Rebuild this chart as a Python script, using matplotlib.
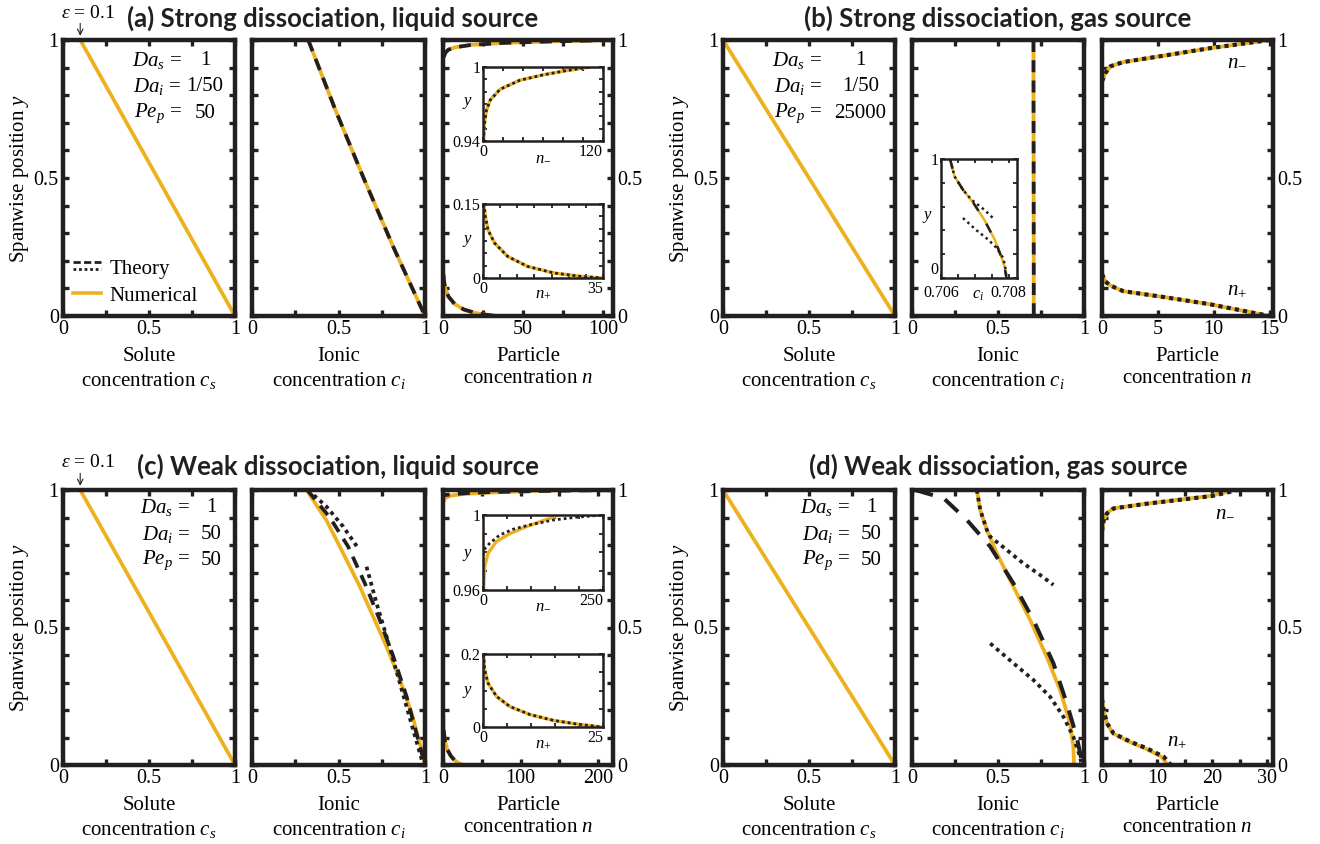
import matplotlib
matplotlib.use('Agg')
import matplotlib.pyplot as plt
from matplotlib.legend_handler import HandlerBase
from matplotlib.lines import Line2D

plt.rcParams['font.family'] = ['Liberation Serif', 'DejaVu Serif']
plt.rcParams['mathtext.fontset'] = 'custom'
plt.rcParams['mathtext.rm'] = 'Liberation Serif'
plt.rcParams['mathtext.it'] = 'Liberation Serif:italic'
plt.rcParams['mathtext.bf'] = 'Liberation Serif:bold'

ORANGE = '#EDB120'
DARK = '#231f20'

# ---------------- data ----------------
# (a) strong dissociation, liquid source
a_cs_y = [1.0, 0.0]
a_cs = [0.1, 1.0]
a_ci_y = [1.0, 0.75, 0.5, 0.25, 0.0]
a_ci = [0.325, 0.48, 0.645, 0.817, 1.0]
a_nm_y = [0.94, 0.9414, 0.953, 0.9646, 0.9733, 0.982, 0.9893, 0.9936, 0.9971, 0.9994, 1.0]
a_nm = [0.0, 0.7, 1.3, 3.3, 7.3, 17.2, 37.0, 60.0, 83.5, 103.0, 107.0]
a_np_y = [0.15, 0.148, 0.124, 0.0975, 0.0706, 0.0437, 0.0235, 0.0101, 0.0034, 0.0]
a_np = [0.0, 0.3, 0.7, 1.45, 3.4, 7.2, 13.0, 20.7, 28.4, 34.7]

# (b) strong dissociation, gas source
b_cs_y = [1.0, 0.0]
b_cs = [0.0, 1.0]
b_ci_y = [1.0, 0.986, 0.854, 0.742, 0.630, 0.490, 0.322, 0.182, 0.098, 0.014, 0.0]
b_ci = [0.70627, 0.70628, 0.70640, 0.70665, 0.70696, 0.70728, 0.70759, 0.70778, 0.70788, 0.70793, 0.70794]
b_ci_up_y = [1.0, 0.854, 0.742, 0.658, 0.574, 0.49]
b_ci_up = [0.70627, 0.70640, 0.70665, 0.70690, 0.70728, 0.70759]
b_ci_lo_y = [0.504, 0.406, 0.322, 0.252, 0.168, 0.098, 0.0]
b_ci_lo = [0.70665, 0.70703, 0.70740, 0.70765, 0.70784, 0.70790, 0.70794]
b_nm_y = [0.85, 0.88, 0.905, 0.92, 0.945, 0.97, 1.0]
b_nm = [0.0, 0.3, 0.77, 1.9, 5.8, 9.6, 15.0]
b_np_y = [0.152, 0.125, 0.11, 0.09, 0.067, 0.043, 0.0]
b_np = [0.0, 0.3, 0.77, 1.9, 5.8, 9.6, 15.0]

# (c) weak dissociation, liquid source
c_cs_y = [1.0, 0.0]
c_cs = [0.1, 1.0]
c_ci_y = [1.0, 0.89, 0.77, 0.648, 0.54, 0.43, 0.31, 0.188, 0.055, 0.0]
c_ci = [0.315, 0.43, 0.527, 0.624, 0.70, 0.778, 0.855, 0.923, 0.98, 1.0]
c_ci_th_y = [1.0, 0.90, 0.794, 0.661, 0.527, 0.394, 0.248, 0.067, 0.0]
c_ci_th = [0.32, 0.45, 0.556, 0.652, 0.739, 0.817, 0.894, 0.971, 1.0]
c_ci_up_y = [1.0, 0.94, 0.867, 0.788]
c_ci_up = [0.324, 0.43, 0.527, 0.614]
c_ci_lo_y = [0.721, 0.588, 0.467, 0.297, 0.127, 0.0]
c_ci_lo = [0.662, 0.72, 0.778, 0.855, 0.932, 0.99]
c_nm_y = [0.96, 0.961, 0.9724, 0.9796, 0.9858, 0.990, 0.9938, 0.997, 0.999, 1.0]
c_nm = [0.0, 1.4, 3.5, 10.4, 27.8, 55.6, 90.0, 125.0, 149.0, 155.0]
c_nm_th_y = [0.96, 0.978, 0.9813, 0.9849, 0.9893, 0.9924, 0.9947, 0.9973, 0.9988, 1.0]
c_nm_th = [0.0, 0.0, 1.4, 13.9, 34.7, 62.5, 97.0, 146.0, 194.0, 250.0]
c_np_y = [0.2, 0.197, 0.156, 0.12, 0.084, 0.056, 0.034, 0.018, 0.008, 0.0]
c_np = [0.0, 0.14, 0.35, 1.05, 2.8, 5.6, 9.8, 14.7, 19.6, 24.8]

# (d) weak dissociation, gas source
d_cs_y = [1.0, 0.0]
d_cs = [0.0, 1.0]
d_ci_y = [1.0, 0.927, 0.855, 0.77, 0.648, 0.527, 0.394, 0.273, 0.152, 0.067, 0.0]
d_ci = [0.377, 0.397, 0.435, 0.493, 0.59, 0.687, 0.783, 0.861, 0.919, 0.938, 0.942]
d_ci_th_y = [1.0, 0.97, 0.891, 0.794, 0.66, 0.527, 0.37, 0.224, 0.103, 0.018, 0.0]
d_ci_th = [0.02, 0.184, 0.319, 0.455, 0.59, 0.706, 0.822, 0.9, 0.957, 0.986, 1.0]
d_ci_up_y = [1.0, 0.927, 0.855, 0.83, 0.782, 0.733, 0.691, 0.655]
d_ci_up = [0.377, 0.397, 0.435, 0.455, 0.551, 0.648, 0.745, 0.822]
d_ci_lo_y = [0.442, 0.37, 0.309, 0.248, 0.176, 0.103, 0.03, 0.0]
d_ci_lo = [0.455, 0.59, 0.706, 0.803, 0.88, 0.938, 0.977, 0.986]
d_nm_y = [0.85, 0.89, 0.915, 0.933, 0.95, 0.964, 0.978, 0.998, 1.0]
d_nm = [0.0, 0.3, 0.87, 2.0, 7.9, 13.7, 19.5, 23.6, 23.8]
d_nm_th = [0.0, 0.3, 0.9, 2.1, 8.1, 14.0, 19.9, 24.2, 24.5]
d_np_y = [0.24, 0.2, 0.152, 0.115, 0.085, 0.06, 0.03, 0.0]
d_np = [0.0, 0.3, 0.87, 2.0, 4.9, 7.9, 10.8, 11.9]
d_np_th = [0.0, 0.3, 0.9, 2.1, 5.1, 8.2, 11.2, 12.5]

# tick positions / labels
c_ticks = [0, 0.25, 0.5, 0.75, 1]
c_labels = ['0', '', '0.5', '', '1']
y_ticks = [0, 0.1, 0.2, 0.3, 0.4, 0.5, 0.6, 0.7, 0.8, 0.9, 1.0]
y_labels = ['0', '', '', '', '', '0.5', '', '', '', '', '1']
a_n_ticks = [0, 25, 50, 75, 100]
a_n_labels = ['0', '', '50', '', '100']
b_n_ticks = [0, 5, 10, 15]
b_n_labels = ['0', '5', '10', '15']
c_n_ticks = [0, 50, 100, 150, 200]
c_n_labels = ['0', '', '100', '', '200']
d_n_ticks = [0, 5, 10, 15, 20, 25, 30]
d_n_labels = ['0', '', '10', '', '20', '', '30']

titles = ['(a) Strong dissociation, liquid source', '(b) Strong dissociation, gas source',
          '(c) Weak dissociation, liquid source', '(d) Weak dissociation, gas source']

# ---------------- figure ----------------
W, H = 1320, 844
fig = plt.figure(figsize=(W / 100, H / 100), dpi=100)


def rect(x0, x1, y0, y1):
    return [x0 / W, 1 - y1 / H, (x1 - x0) / W, (y1 - y0) / H]


num_kw = dict(color=ORANGE, lw=2.7, zorder=2, solid_capstyle='butt')
dash_kw = dict(color=DARK, lw=2.7, ls=(0, (3.2, 2.2)), zorder=3)
dot_kw = dict(color=DARK, lw=2.7, ls=(0, (1, 1.1)), zorder=3)
idot_kw = dict(color=DARK, lw=2.0, ls=(0, (1, 1.1)), zorder=3)
inum_kw = dict(color=ORANGE, lw=2.4, zorder=2)


def main_axes(px, xlim, xt, xl, which, xlabel):
    ax = fig.add_axes(rect(*px))
    ax.set_xlim(xlim)
    ax.set_ylim(0, 1)
    ax.set_xticks(xt)
    ax.set_xticklabels(xl)
    ax.set_yticks(y_ticks)
    ax.set_yticklabels(y_labels)
    ax.tick_params(which='both', direction='in', top=True, right=True, length=4.5,
                   width=2.4, color=DARK, labelsize=14.5, pad=3,
                   labelleft=(which == 0), labelright=(which == 2))
    for s in ax.spines.values():
        s.set_linewidth(3.2)
        s.set_color(DARK)
    ax.set_xlabel(xlabel, fontsize=15, linespacing=1.2, labelpad=6)
    if which == 0:
        ax.set_ylabel('Spanwise position $y$', fontsize=15, labelpad=2)
    return ax


def inset(px, xlim, ylim, xt, xl, yt, yl, xlabel, xlab_pos, ylab_pos, last_right=True, xpad=2):
    ax = fig.add_axes(rect(*px))
    ax.set_xlim(xlim)
    ax.set_ylim(ylim)
    ax.set_xticks(xt)
    ax.set_xticklabels(xl)
    ax.set_yticks(yt)
    ax.set_yticklabels(yl)
    ax.tick_params(which='both', direction='in', top=True, right=True, length=3,
                   width=1.3, color=DARK, labelsize=11.5, pad=2)
    ax.tick_params(axis='x', pad=xpad)
    if last_right:
        ax.get_xticklabels()[-1].set_horizontalalignment('right')
    for s in ax.spines.values():
        s.set_linewidth(1.8)
        s.set_color(DARK)
    ax.set_xlabel(xlabel, fontsize=12)
    ax.xaxis.set_label_coords(*xlab_pos)
    ax.xaxis.label.set_verticalalignment('center')
    ax.set_ylabel('$y$', fontsize=12, rotation=0)
    ax.yaxis.set_label_coords(*ylab_pos)
    ax.yaxis.label.set_verticalalignment('center')
    ax.yaxis.label.set_horizontalalignment('center')
    return ax


L = [(63, 235), (252, 425), (443, 613)]
R = [(723, 895), (912, 1084), (1102, 1273)]
TOP = (40, 316)
BOT = (490, 765)

xl_s = 'Solute\nconcentration $c_s$'
xl_i = 'Ionic\nconcentration $c_i$'
xl_n = 'Particle\nconcentration $n$'

# ---- panel a ----
a1 = main_axes((L[0][0], L[0][1], TOP[0], TOP[1]), (0, 1), c_ticks, c_labels, 0, xl_s)
a1.plot(a_cs, a_cs_y, **num_kw)
a2 = main_axes((L[1][0], L[1][1], TOP[0], TOP[1]), (0, 1), c_ticks, c_labels, 1, xl_i)
a2.plot(a_ci, a_ci_y, **num_kw)
a2.plot(a_ci, a_ci_y, **dash_kw)
a3 = main_axes((L[2][0], L[2][1], TOP[0], TOP[1]), (0, 106), a_n_ticks, a_n_labels, 2, xl_n)
for xs, ys in [(a_nm, a_nm_y), (a_np, a_np_y)]:
    a3.plot(xs, ys, **num_kw)
    a3.plot(xs, ys, **dash_kw)
ai1 = inset((483, 603, 67, 141), (0, 120), (0.94, 1.0), [0, 20, 40, 60, 80, 100, 120],
            ['0', '', '', '', '', '', '120'], [0.94, 0.95, 0.96, 0.97, 0.98, 0.99, 1.0],
            ['0.94', '', '', '', '', '', '1'], '$n_{-}$', (0.5, -0.22), (-0.13, 0.52))
ai1.plot(a_nm, a_nm_y, **inum_kw)
ai1.plot(a_nm, a_nm_y, **idot_kw)
ai2 = inset((483, 603, 204, 278), (0, 35), (0, 0.15), [0, 5, 10, 15, 20, 25, 30, 35],
            ['0', '', '', '', '', '', '', '35'], [0, 0.025, 0.05, 0.075, 0.1, 0.125, 0.15],
            ['0', '', '', '', '', '', '0.15'], '$n_{+}$', (0.5, -0.2), (-0.13, 0.5))
ai2.plot(a_np, a_np_y, **inum_kw)
ai2.plot(a_np, a_np_y, **idot_kw)


class TheoryHandler(HandlerBase):
    def create_artists(self, legend, orig_handle, xdescent, ydescent, width, height,
                       fontsize, trans):
        l1 = Line2D([-xdescent, width - xdescent], [height * 0.78 - ydescent] * 2,
                    color=DARK, lw=2.0, ls=(0, (2.6, 1.2)), transform=trans)
        l2 = Line2D([-xdescent, width - xdescent], [height * 0.3 - ydescent] * 2,
                    color=DARK, lw=2.0, ls=(0, (1, 1)), transform=trans)
        return [l1, l2]


th_handle = Line2D([], [])
num_handle = Line2D([], [], color=ORANGE, lw=2.6)
a1.legend([th_handle, num_handle], ['Theory', 'Numerical'],
          handler_map={th_handle: TheoryHandler()}, loc='lower left',
          frameon=False, fontsize=15, handlelength=1.3, handletextpad=0.45,
          labelspacing=0.35, borderaxespad=0.2, borderpad=0.3)

# ---- panel b ----
b1 = main_axes((R[0][0], R[0][1], TOP[0], TOP[1]), (0, 1), c_ticks, c_labels, 0, xl_s)
b1.plot(b_cs, b_cs_y, **num_kw)
b2 = main_axes((R[1][0], R[1][1], TOP[0], TOP[1]), (0, 1), c_ticks, c_labels, 1, xl_i)
b2.plot(b_ci, b_ci_y, **num_kw)
b2.plot(b_ci, b_ci_y, **dash_kw)
b3 = main_axes((R[2][0], R[2][1], TOP[0], TOP[1]), (0, 15.3), b_n_ticks, b_n_labels, 2, xl_n)
for xs, ys in [(b_nm, b_nm_y), (b_np, b_np_y)]:
    b3.plot(xs, ys, **num_kw)
    b3.plot(xs, ys, color=DARK, lw=3.0, ls=(0, (1, 1)), zorder=3)
b3.text(12.1, 0.927, '$n_{-}$', fontsize=15, ha='center', va='center')
b3.text(12.1, 0.094, '$n_{+}$', fontsize=15, ha='center', va='center')
bi = inset((941, 1017, 159, 278), (0.706, 0.70825),
           (0, 1), [0.706, 0.7065, 0.707, 0.7075, 0.708], ['0.706', '', '', '', '0.708'],
           [0, 0.2, 0.4, 0.6, 0.8, 1.0], ['0', '', '', '', '', '1'], '$c_i$',
           (0.49, -0.14), (-0.18, 0.51), last_right=False, xpad=5)
bi.get_yticklabels()[0].set_verticalalignment('bottom')
bi.plot(b_ci, b_ci_y, color=ORANGE, lw=1.8, zorder=2)
bi.plot(b_ci, b_ci_y, color=DARK, lw=1.8, ls=(0, (4, 6)), zorder=3)
bi.plot(b_ci_up, b_ci_up_y, color=DARK, lw=1.8, ls=(0, (1, 1.4)), zorder=3)
bi.plot(b_ci_lo, b_ci_lo_y, color=DARK, lw=1.8, ls=(0, (1, 1.4)), zorder=3)

# ---- panel c ----
c1 = main_axes((L[0][0], L[0][1], BOT[0], BOT[1]), (0, 1), c_ticks, c_labels, 0, xl_s)
c1.plot(c_cs, c_cs_y, **num_kw)
c2 = main_axes((L[1][0], L[1][1], BOT[0], BOT[1]), (0, 1), c_ticks, c_labels, 1, xl_i)
c2.plot(c_ci, c_ci_y, **num_kw)
c2.plot(c_ci_th, c_ci_th_y, **dash_kw)
c2.plot(c_ci_up, c_ci_up_y, **dot_kw)
c2.plot(c_ci_lo, c_ci_lo_y, **dot_kw)
c3 = main_axes((L[2][0], L[2][1], BOT[0], BOT[1]), (0, 219), c_n_ticks, c_n_labels, 2, xl_n)
c3.plot(c_nm, c_nm_y, **num_kw)
c3.plot(c_nm_th, c_nm_th_y, **dash_kw)
c3.plot(c_np, c_np_y, **num_kw)
c3.plot(c_np, c_np_y, **dash_kw)
ci1 = inset((483, 603, 515, 590), (0, 250), (0.96, 1.0), [0, 50, 100, 150, 200, 250],
            ['0', '', '', '', '', '250'], [0.96, 0.97, 0.98, 0.99, 1.0],
            ['0.96', '', '', '', '1'], '$n_{-}$', (0.5, -0.2), (-0.13, 0.47))
ci1.plot(c_nm, c_nm_y, **inum_kw)
ci1.plot(c_nm_th, c_nm_th_y, **idot_kw)
ci2 = inset((483, 603, 654, 727), (0, 25), (0, 0.2), [0, 5, 10, 15, 20, 25],
            ['0', '', '', '', '', '25'], [0, 0.05, 0.1, 0.15, 0.2],
            ['0', '', '', '', '0.2'], '$n_{+}$', (0.5, -0.22), (-0.13, 0.48))
ci2.plot(c_np, c_np_y, **inum_kw)
ci2.plot(c_np, c_np_y, **idot_kw)

# ---- panel d ----
d1 = main_axes((R[0][0], R[0][1], BOT[0], BOT[1]), (0, 1), c_ticks, c_labels, 0, xl_s)
d1.plot(d_cs, d_cs_y, **num_kw)
d2 = main_axes((R[1][0], R[1][1], BOT[0], BOT[1]), (0, 1), c_ticks, c_labels, 1, xl_i)
d2.plot(d_ci, d_ci_y, **num_kw)
d2.plot(d_ci_th, d_ci_th_y, color=DARK, lw=2.9, ls=(0, (4.5, 3.2)), zorder=3)
d2.plot(d_ci_up, d_ci_up_y, **dot_kw)
d2.plot(d_ci_lo, d_ci_lo_y, **dot_kw)
d3 = main_axes((R[2][0], R[2][1], BOT[0], BOT[1]), (0, 31), d_n_ticks, d_n_labels, 2, xl_n)
d3.plot(d_nm, d_nm_y, **num_kw)
d3.plot(d_nm_th, d_nm_y, color=DARK, lw=3.0, ls=(0, (1, 1)), zorder=3)
d3.plot(d_np, d_np_y, **num_kw)
d3.plot(d_np_th, d_np_y, color=DARK, lw=3.0, ls=(0, (1, 1)), zorder=3)
d3.text(22.3, 0.92, '$n_{-}$', fontsize=15, ha='center', va='center')
d3.text(13.6, 0.09, '$n_{+}$', fontsize=15, ha='center', va='center')


# ---- parameter annotations ----
def params(ax, xeq, xval, rows, ys):
    for (lab, val), yy in zip(rows, ys):
        ax.text(xeq, yy, lab + ' =', transform=ax.transAxes, fontsize=15, ha='right', va='center')
        ax.text(xval, yy, val, transform=ax.transAxes, fontsize=15, ha='center', va='center')


ys_top = [0.927, 0.83, 0.735]
ys_bot = [0.935, 0.838, 0.745]
params(a1, 0.69, 0.825, [('$Da_s$', '1'), ('$Da_i$', '1/50'), ('$Pe_p$', '50')], ys_top)
params(b1, 0.575, 0.80, [('$Da_s$', '1'), ('$Da_i$', '1/50'), ('$Pe_p$', '25000')], ys_top)
params(c1, 0.74, 0.86, [('$Da_s$', '1'), ('$Da_i$', '50'), ('$Pe_p$', '50')], ys_bot)
params(d1, 0.74, 0.86, [('$Da_s$', '1'), ('$Da_i$', '50'), ('$Pe_p$', '50')], ys_bot)

# ---- epsilon markers ----
for ax, ty in [(a1, 13), (c1, 462)]:
    fig.text(88 / W, 1 - ty / H, r'$\varepsilon$ = 0.1', fontsize=14, ha='center', va='center')
    ax.annotate('', xy=(0.1, 1.0), xycoords='data', xytext=(0, 12), textcoords='offset points',
                arrowprops=dict(arrowstyle='->', lw=0.8, color=DARK, shrinkA=0, shrinkB=3),
                annotation_clip=False)

# ---- titles ----
tkw = dict(fontsize=18.5, fontweight='bold', family='Lato', ha='center', va='center', color=DARK)
fig.text(333 / W, 1 - 18 / H, titles[0], **tkw)
fig.text(998 / W, 1 - 18 / H, titles[1], **tkw)
fig.text(338 / W, 1 - 466 / H, titles[2], **tkw)
fig.text(998 / W, 1 - 466 / H, titles[3], **tkw)

fig.savefig('out.png', dpi=100)
